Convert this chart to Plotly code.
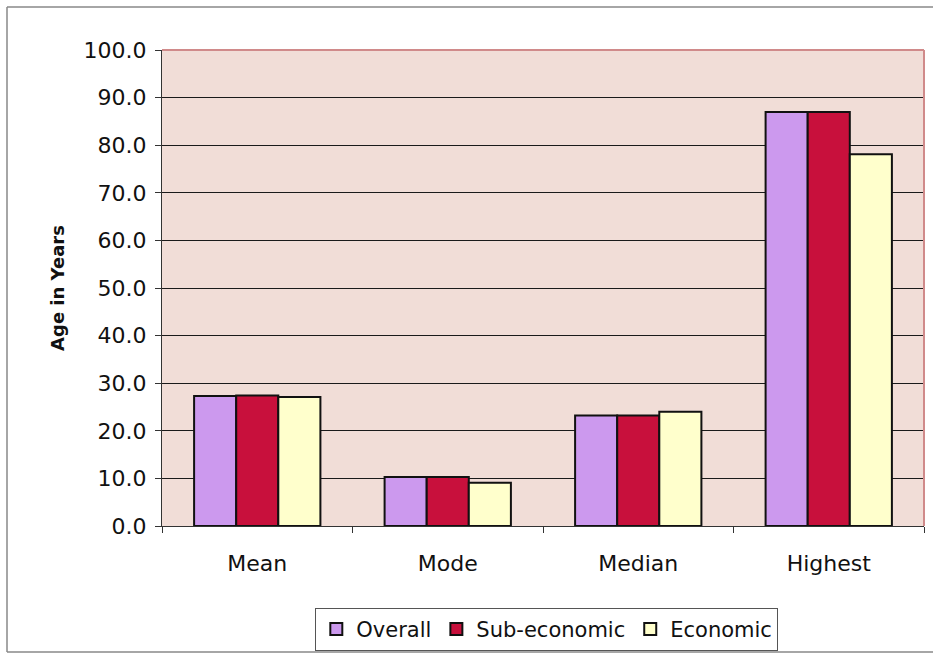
import plotly.graph_objects as go

categories = ["Mean", "Mode", "Median", "Highest"]
overall = [27.3, 10.3, 23.2, 87.0]
sub_economic = [27.4, 10.3, 23.2, 87.0]
economic = [27.1, 9.1, 24.0, 78.1]
y_ticks = [0, 10, 20, 30, 40, 50, 60, 70, 80, 90, 100]

series = [
    ("Overall", overall, "#CC99EE"),
    ("Sub-economic", sub_economic, "#C8103C"),
    ("Economic", economic, "#FFFFCC"),
]

fig = go.Figure()
for name, vals, color in series:
    fig.add_trace(go.Bar(
        x=categories, y=vals, name=name,
        marker=dict(color=color, line=dict(color="#111111", width=2)),
    ))

W, H = 933, 655
L, R, T, B = 162, 9, 50, 129

fig.update_layout(
    width=W, height=H,
    margin=dict(l=L, r=R, t=T, b=B, autoexpand=False),
    paper_bgcolor="white",
    plot_bgcolor="#F1DDD7",
    barmode="group",
    bargap=0.337,
    bargroupgap=0,
    font=dict(family="DejaVu Sans, Liberation Sans, Arial, sans-serif", color="#111111", size=22),
    showlegend=True,
    legend=dict(
        orientation="h",
        x=0.505, xanchor="center",
        y=-0.172, yanchor="top",
        bgcolor="white",
        bordercolor="#555555", borderwidth=1,
        font=dict(size=21, color="#111111"),
        itemwidth=30,
        tracegroupgap=0,
    ),
    xaxis=dict(
        type="category",
        showgrid=False,
        showline=True, linecolor="#333333", linewidth=1,
        ticks="outside", tickson="boundaries", ticklen=6, tickcolor="#333333",
        tickfont=dict(size=22),
        ticklabelstandoff=18,
        mirror=False,
    ),
    yaxis=dict(
        range=[0, 100],
        tickvals=y_ticks,
        ticktext=[f"{v:.1f}" for v in y_ticks],
        showgrid=True, gridcolor="#1a1a1a", gridwidth=1,
        showline=True, linecolor="#333333", linewidth=1,
        ticks="outside", ticklen=6, tickcolor="#333333",
        tickfont=dict(size=22),
        ticklabelstandoff=4,
        zeroline=False,
        title=dict(text="<b>Age in Years</b>", font=dict(size=18), standoff=14),
    ),
)

# Pink plot-area border along the top and right edges
fig.add_shape(type="line", xref="paper", yref="paper", x0=0, x1=1, y0=1, y1=1,
              line=dict(color="#D08A8A", width=2))
fig.add_shape(type="line", xref="paper", yref="paper", x0=1, x1=1, y0=0, y1=1,
              line=dict(color="#D08A8A", width=2))

# Outer chart frame (left, top, bottom)
px = lambda x: (x - L) / (W - L - R)
py = lambda y: (H - B - y) / (H - T - B)
frame = dict(color="#888888", width=1.5)
fig.add_shape(type="line", xref="paper", yref="paper", x0=px(7), x1=px(933), y0=py(7), y1=py(7), line=frame)
fig.add_shape(type="line", xref="paper", yref="paper", x0=px(7), x1=px(7), y0=py(7), y1=py(652), line=frame)
fig.add_shape(type="line", xref="paper", yref="paper", x0=px(7), x1=px(933), y0=py(652), y1=py(652), line=frame)

fig.write_html("out.html")
